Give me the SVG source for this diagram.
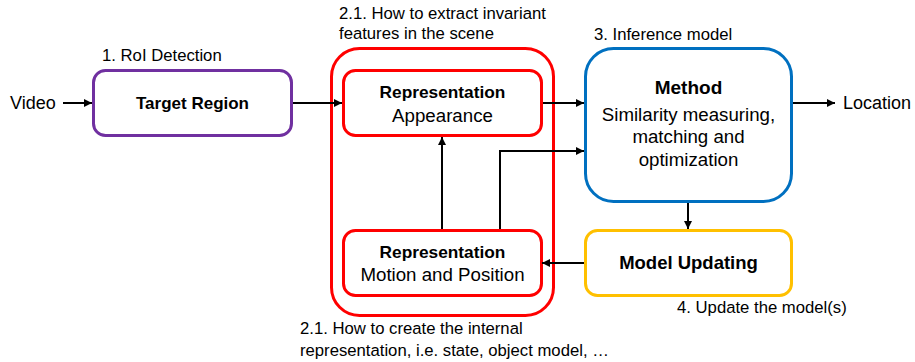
<svg xmlns="http://www.w3.org/2000/svg" width="915" height="362" viewBox="0 0 915 362">
<defs>
<marker id="ah" viewBox="0 0 10 10" refX="10" refY="5" markerWidth="8" markerHeight="8" markerUnits="userSpaceOnUse" orient="auto">
<path d="M0,0 L10,5 L0,10 z" fill="#000"/>
</marker>
</defs>
<style>
text{font-family:"Liberation Sans",Arial,sans-serif;fill:#000}
.t{font-size:16.7px}
.l{font-size:18px}
.b{font-size:17.3px;font-weight:bold}
.r{font-size:18.7px}
.box{fill:#fff;stroke-width:3}
.c{fill:none;stroke:#000;stroke-width:2}
</style>
<rect width="915" height="362" fill="#fff"/>
<g id="labels">
<text class="t" x="102" y="61">1. RoI Detection</text>
<text class="t" x="339" y="19">2.1. How to extract invariant</text>
<text class="t" x="339" y="39">features in the scene</text>
<text class="t" x="594" y="40">3. Inference model</text>
<text class="t" x="677" y="313">4. Update the model(s)</text>
<text class="t" x="300" y="334">2.1. How to create the internal</text>
<text class="t" x="300" y="356">representation, i.e. state, object model, …</text>
<text class="l" x="10" y="109">Video</text>
<text class="l" x="843" y="109">Location</text>
</g>
<g id="group-representation">
<rect class="box" x="331.5" y="48.5" width="222" height="267" rx="28" stroke="#FF0000"/>
</g>
<g id="node-target">
<rect class="box" x="93.5" y="70.5" width="198" height="65" rx="12" stroke="#7030A0"/>
<text class="b" x="192.5" y="109" text-anchor="middle" style="font-size:17px">Target Region</text>
</g>
<g id="node-appearance">
<rect class="box" x="343.5" y="70.5" width="198" height="65" rx="12" stroke="#FF0000"/>
<text class="b" x="442.5" y="98" text-anchor="middle">Representation</text>
<text class="r" x="442.5" y="122" text-anchor="middle">Appearance</text>
</g>
<g id="node-motion">
<rect class="box" x="343.5" y="230.5" width="198" height="65" rx="12" stroke="#FF0000"/>
<text class="b" x="442.5" y="258" text-anchor="middle">Representation</text>
<text class="r" x="442.5" y="281" text-anchor="middle">Motion and Position</text>
</g>
<g id="node-method">
<rect class="box" x="585.5" y="48.5" width="206" height="153" rx="28" stroke="#0070C0"/>
<text class="b" x="688.5" y="94" text-anchor="middle" style="font-size:19px">Method</text>
<text class="r" x="688.5" y="121" text-anchor="middle">Similarity measuring,</text>
<text class="r" x="688.5" y="143" text-anchor="middle">matching and</text>
<text class="r" x="688.5" y="166" text-anchor="middle">optimization</text>
</g>
<g id="node-update">
<rect class="box" x="585.5" y="230.5" width="206" height="65" rx="12" stroke="#FFC000"/>
<text class="b" x="688.5" y="269" text-anchor="middle" style="font-size:18.5px">Model Updating</text>
</g>
<g id="connectors">
<path class="c" d="M63,103 H92" marker-end="url(#ah)"/>
<path class="c" d="M293,103 H342" marker-end="url(#ah)"/>
<path class="c" d="M543,103 H584" marker-end="url(#ah)"/>
<path class="c" d="M793,103 H835" marker-end="url(#ah)"/>
<path class="c" d="M442,229 V137" marker-end="url(#ah)"/>
<path class="c" d="M500,229 V151 H584" marker-end="url(#ah)"/>
<path class="c" d="M688,203 V229" marker-end="url(#ah)"/>
<path class="c" d="M584,263 H542" marker-end="url(#ah)"/>
</g>
</svg>
